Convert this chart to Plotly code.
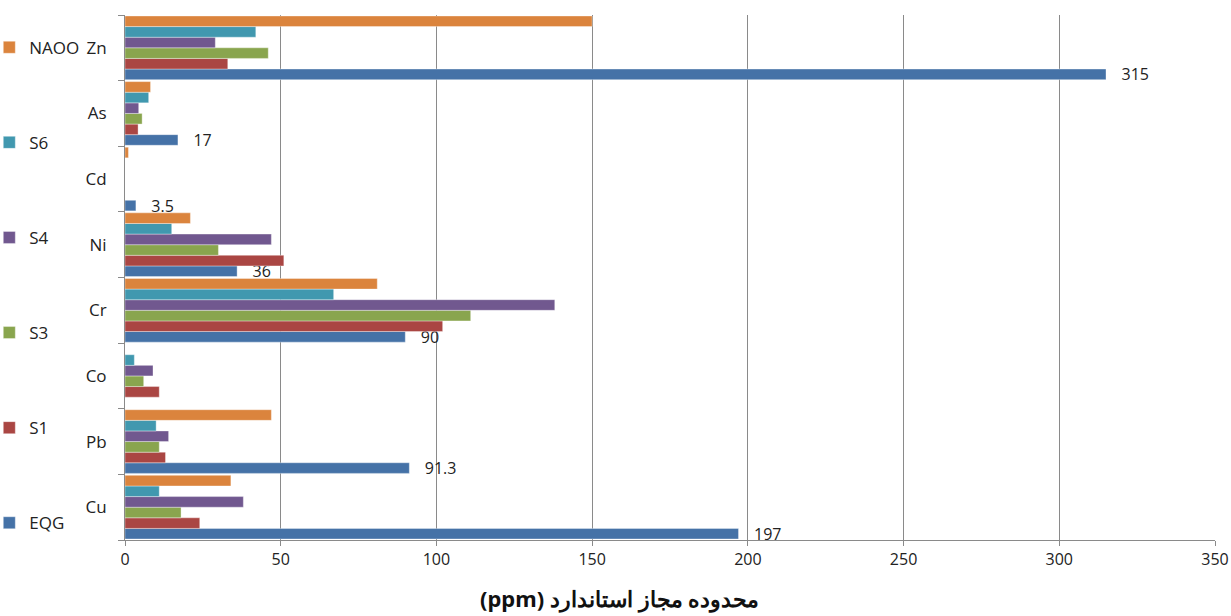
import plotly.graph_objects as go

categories = ["Cu", "Pb", "Co", "Cr", "Ni", "Cd", "As", "Zn"]
EQG = [197, 91.3, None, 90, 36, 3.5, 17, 315]
S1 = [24, 13, 11, 102, 51, None, 4.2, 33]
S3 = [18, 11, 6, 111, 30, None, 5.5, 46]
S4 = [38, 14, 9, 138, 47, None, 4.4, 29]
S6 = [11, 10, 3, 67, 15, None, 7.6, 42]
NAOO = [34, 47, None, 81, 21, 1.1, 8.2, 150]
eqg_labels = ["197", "91.3", "", "90", "36", "3.5", "17", "315"]

series = [
    ("EQG", EQG, "#4572A7"),
    ("S1", S1, "#AA4643"),
    ("S3", S3, "#89A54E"),
    ("S4", S4, "#71588F"),
    ("S6", S6, "#4198AF"),
    ("NAOO", NAOO, "#DB843D"),
]
legend_rank = {"NAOO": 1, "S6": 2, "S4": 3, "S3": 4, "S1": 5, "EQG": 6}

fig = go.Figure()
for name, vals, col in series:
    kw = {}
    if name == "EQG":
        kw = dict(text=["\u00a0\u00a0\u00a0" + t if t else "" for t in eqg_labels],
                  textposition="outside", cliponaxis=False, constraintext="none",
                  textfont=dict(size=16, color="#222222", family="Open Sans"))
    fig.add_trace(go.Bar(
        y=categories, x=vals, name=name, orientation="h",
        marker=dict(color=col, line=dict(color="rgba(255,255,255,0.6)", width=0.6)),
        legendgroup=name, legendrank=legend_rank[name], **kw))

fig.update_layout(
    width=1231, height=616,
    margin=dict(l=125, r=16, t=15, b=76, autoexpand=False),
    barmode="group", bargap=0.03, bargroupgap=0,
    plot_bgcolor="white", paper_bgcolor="white",
    font=dict(family="Open Sans", size=16, color="#222222"),
    showlegend=True,
    legend=dict(x=-0.1245, y=0.972, xanchor="left", yanchor="top",
                traceorder="grouped", tracegroupgap=70,
                font=dict(size=17), itemwidth=30, bgcolor="rgba(0,0,0,0)"),
    xaxis=dict(range=[0, 350], dtick=50, showgrid=True, gridcolor="#8a8a8a", gridwidth=1,
               zeroline=False, showline=True, linecolor="#8a8a8a", ticks="outside",
               ticklen=5, tickcolor="#8a8a8a", tickfont=dict(size=16), automargin=False),
    yaxis=dict(categoryorder="array", categoryarray=categories, showline=True,
               linecolor="#8a8a8a", ticks="outside", tickson="boundaries", ticklen=6,
               tickcolor="#8a8a8a", tickfont=dict(size=17), ticklabelstandoff=14,
               range=[-0.5, 7.5], automargin=False),
)
fig.add_annotation(text="<b>\u202bمحدوده مجاز استاندارد (ppm)\u202c</b>", xref="paper", yref="paper",
                   x=0.454, y=-0.11, xanchor="center", yanchor="middle", showarrow=False,
                   font=dict(size=22, family="Noto Sans", color="#111111"))
fig.write_html("out.html", post_script="document.body.style.margin='0';",
               config={"displayModeBar": False})
